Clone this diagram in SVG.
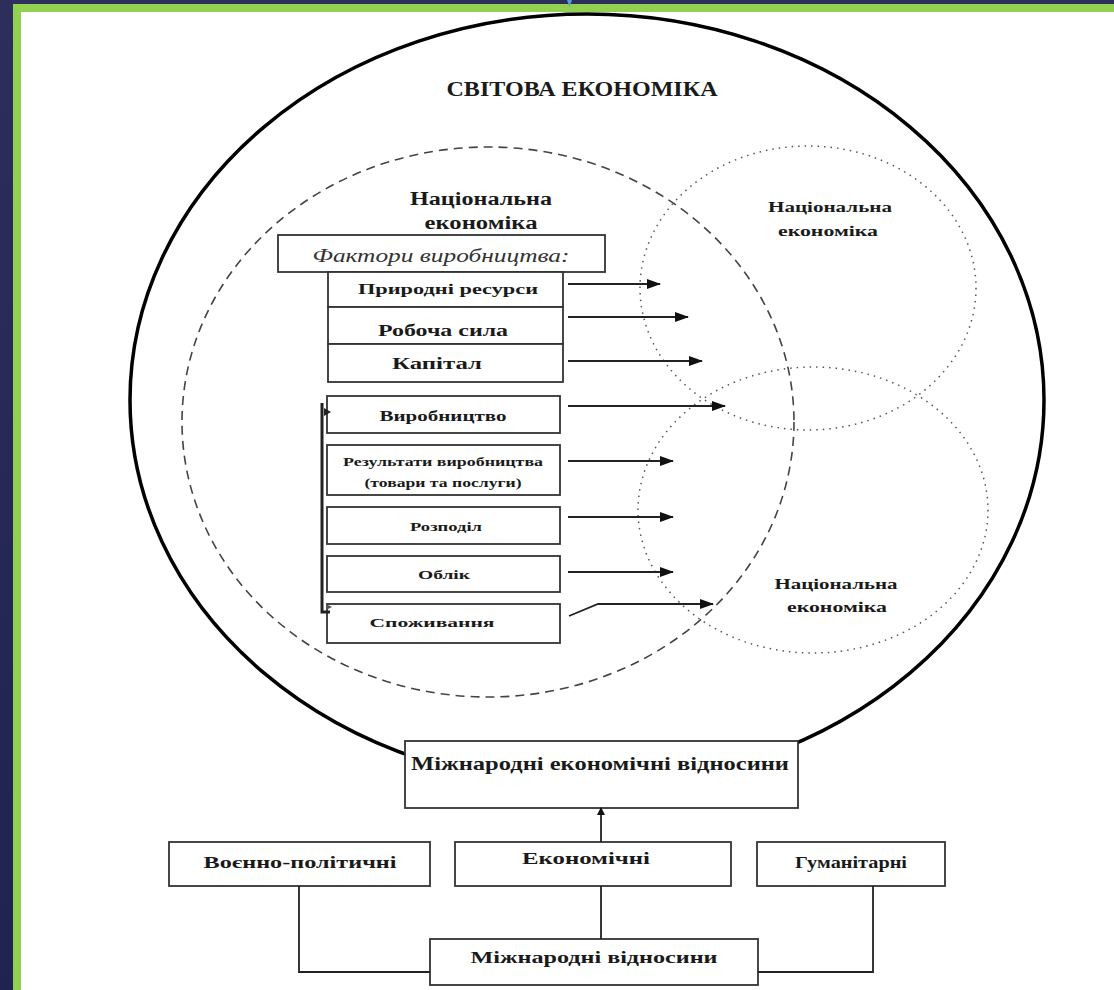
<svg xmlns="http://www.w3.org/2000/svg" width="1114" height="990" viewBox="0 0 1114 990">
<defs>
<linearGradient id="navy" x1="0" y1="0" x2="0" y2="1">
<stop offset="0" stop-color="#2c2f5c"/>
<stop offset="1" stop-color="#1f2350"/>
</linearGradient>
<marker id="ah" markerWidth="14" markerHeight="10" refX="13" refY="5" orient="auto" markerUnits="userSpaceOnUse">
<path d="M0,0 L14,5 L0,10 Z" fill="#111"/>
</marker>
<marker id="ahs" markerWidth="8" markerHeight="8" refX="7" refY="4" orient="auto" markerUnits="userSpaceOnUse">
<path d="M0,0 L8,4 L0,8 Z" fill="#111"/>
</marker>
</defs>
<style>
.box{fill:#fff;stroke:#333;stroke-width:1.8}
.t{font-family:"Liberation Serif","Times New Roman",serif;font-weight:bold;fill:#1a1a1a;text-anchor:middle}
.it{font-family:"Liberation Serif","Times New Roman",serif;font-style:italic;fill:#333;text-anchor:middle}
.ln{fill:none;stroke:#222;stroke-width:1.8}
.ar{fill:none;stroke:#222;stroke-width:1.8;marker-end:url(#ah)}
</style>
<g id="frame">
<rect width="1114" height="990" fill="url(#navy)"/>
<rect x="13" y="4" width="1101" height="986" fill="#92d050"/>
<rect x="21" y="12" width="1093" height="978" fill="#fff"/>
<path d="M567,0 L572,0 L569.5,7 Z" fill="#5b9bd5"/>
</g>
<g id="world">
<ellipse cx="587" cy="400" rx="457" ry="386" fill="none" stroke="#000" stroke-width="3.5"/>
<text class="t" x="582" y="96" font-size="20" textLength="271" lengthAdjust="spacingAndGlyphs">СВІТОВА ЕКОНОМІКА</text>
</g>
<g id="national-left">
<ellipse cx="488" cy="422" rx="306" ry="275" fill="none" stroke="#444" stroke-width="1.6" stroke-dasharray="9 6"/>
<text class="t" x="481" y="205" font-size="18" textLength="142" lengthAdjust="spacingAndGlyphs">Національна</text>
<text class="t" x="481" y="229" font-size="18" textLength="113" lengthAdjust="spacingAndGlyphs">економіка</text>
</g>
<g id="national-upper-right">
<ellipse cx="808" cy="288" rx="168" ry="142" fill="none" stroke="#555" stroke-width="1.5" stroke-dasharray="1.5 5"/>
<text class="t" x="830" y="212" font-size="15" textLength="124" lengthAdjust="spacingAndGlyphs">Національна</text>
<text class="t" x="828" y="236" font-size="15" textLength="100" lengthAdjust="spacingAndGlyphs">економіка</text>
</g>
<g id="national-lower-right">
<ellipse cx="813" cy="510" rx="175" ry="143" fill="none" stroke="#555" stroke-width="1.5" stroke-dasharray="1.5 5"/>
<text class="t" x="836" y="589" font-size="15" textLength="123" lengthAdjust="spacingAndGlyphs">Національна</text>
<text class="t" x="837" y="612" font-size="15" textLength="100" lengthAdjust="spacingAndGlyphs">економіка</text>
</g>
<g id="factors">
<rect class="box" x="278" y="235" width="327" height="37"/>
<text class="it" x="441" y="262" font-size="19" textLength="257" lengthAdjust="spacingAndGlyphs">Фактори виробництва:</text>
</g>
<g id="natural-resources">
<rect class="box" x="328" y="272" width="235" height="35"/>
<text class="t" x="448" y="294" font-size="15" textLength="180" lengthAdjust="spacingAndGlyphs">Природні ресурси</text>
</g>
<g id="labour">
<rect class="box" x="328" y="307" width="235" height="37"/>
<text class="t" x="443" y="336" font-size="17" textLength="130" lengthAdjust="spacingAndGlyphs">Робоча сила</text>
</g>
<g id="capital">
<rect class="box" x="328" y="344" width="235" height="38"/>
<text class="t" x="437" y="369" font-size="17" textLength="90" lengthAdjust="spacingAndGlyphs">Капітал</text>
</g>
<g id="production">
<rect class="box" x="327" y="396" width="233" height="37"/>
<text class="t" x="443" y="421" font-size="14" textLength="127" lengthAdjust="spacingAndGlyphs">Виробництво</text>
</g>
<g id="results">
<rect class="box" x="327" y="445" width="233" height="50"/>
<text class="t" x="443" y="466" font-size="12" textLength="200" lengthAdjust="spacingAndGlyphs">Результати виробництва</text>
<text class="t" x="443" y="487" font-size="12" textLength="157" lengthAdjust="spacingAndGlyphs">(товари та послуги)</text>
</g>
<g id="distribution">
<rect class="box" x="327" y="507" width="233" height="37"/>
<text class="t" x="446" y="531" font-size="12" textLength="72" lengthAdjust="spacingAndGlyphs">Розподіл</text>
</g>
<g id="accounting">
<rect class="box" x="327" y="556" width="233" height="36"/>
<text class="t" x="444" y="579" font-size="12" textLength="52" lengthAdjust="spacingAndGlyphs">Облік</text>
</g>
<g id="consumption">
<rect class="box" x="327" y="604" width="233" height="39"/>
<text class="t" x="432" y="627" font-size="12" textLength="125" lengthAdjust="spacingAndGlyphs">Споживання</text>
</g>
<g id="ier">
<rect class="box" x="405" y="741" width="393" height="67"/>
<text class="t" x="600" y="770" font-size="19" textLength="378" lengthAdjust="spacingAndGlyphs">Міжнародні економічні відносини</text>
</g>
<g id="military">
<rect class="box" x="169" y="842" width="261" height="44"/>
<text class="t" x="300" y="868" font-size="17" textLength="193" lengthAdjust="spacingAndGlyphs">Воєнно-політичні</text>
</g>
<g id="economic">
<rect class="box" x="455" y="842" width="276" height="44"/>
<text class="t" x="586" y="864" font-size="17" textLength="128" lengthAdjust="spacingAndGlyphs">Економічні</text>
</g>
<g id="humanitarian">
<rect class="box" x="757" y="842" width="188" height="44"/>
<text class="t" x="851" y="868" font-size="17" textLength="112" lengthAdjust="spacingAndGlyphs">Гуманітарні</text>
</g>
<g id="ir">
<rect class="box" x="430" y="939" width="328" height="46"/>
<text class="t" x="594" y="963" font-size="17" textLength="247" lengthAdjust="spacingAndGlyphs">Міжнародні відносини</text>
</g>
<g id="connectors">
<line class="ar" x1="568" y1="284" x2="660" y2="284"/>
<line class="ar" x1="568" y1="317" x2="688" y2="317"/>
<line class="ar" x1="568" y1="361" x2="702" y2="361"/>
<line class="ar" x1="568" y1="406" x2="725" y2="406"/>
<line class="ar" x1="568" y1="461" x2="673" y2="461"/>
<line class="ar" x1="568" y1="517" x2="673" y2="517"/>
<line class="ar" x1="568" y1="572" x2="673" y2="572"/>
<polyline class="ar" points="569,616 598,604 713,604"/>
<path d="M330,612 H322 V403" fill="none" stroke="#222" stroke-width="3"/>
<path d="M324,408 L331,412 L324,416 Z" fill="#222"/>
<path d="M326,604 L332,607 L326,610 Z" fill="#555"/>
<line class="ln" x1="601" y1="842" x2="601" y2="808" marker-end="url(#ahs)"/>
<polyline class="ln" points="299,886 299,972 430,972"/>
<line class="ln" x1="601" y1="886" x2="601" y2="939"/>
<polyline class="ln" points="873,886 873,972 758,972"/>
</g>
</svg>
